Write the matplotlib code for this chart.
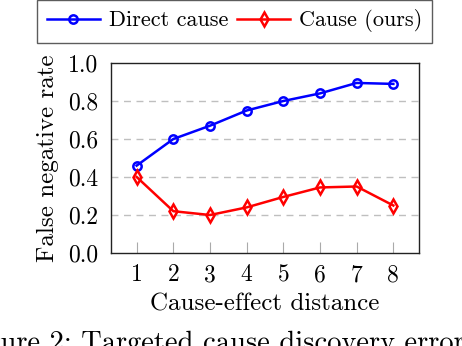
import matplotlib
matplotlib.use("Agg")
import matplotlib.pyplot as plt

plt.rcParams['font.family'] = 'serif'
plt.rcParams['font.serif'] = ['cmr10', 'DejaVu Serif']
plt.rcParams['mathtext.fontset'] = 'cm'
plt.rcParams['axes.unicode_minus'] = False
plt.rcParams['axes.formatter.use_mathtext'] = True

distance = [1, 2, 3, 4, 5, 6, 7, 8]
direct_cause = [0.46, 0.60, 0.67, 0.75, 0.80, 0.84, 0.895, 0.89]
cause_ours = [0.40, 0.22, 0.20, 0.24, 0.295, 0.345, 0.35, 0.25]
yticks = [0.0, 0.2, 0.4, 0.6, 0.8, 1.0]
ytick_labels = ['0.0', '0.2', '0.4', '0.6', '0.8', '1.0']

W, H = 462, 346
fig = plt.figure(figsize=(W / 100, H / 100), dpi=100)
ax = fig.add_axes([111 / W, (H - 253) / H, (419 - 111) / W, (253 - 63) / H])

for yv in yticks[1:-1]:
    ax.axhline(yv, color='#bfbfbf', lw=1.0, ls=(0, (5, 4)), zorder=0)

l1, = ax.plot(distance, direct_cause, color='#0000ff', lw=1.8, marker='o',
              ms=6, mfc='none', mew=1.8, label='Direct cause', zorder=3)
l2, = ax.plot(distance, cause_ours, color='#ff0000', lw=1.8, marker='d',
              ms=7, mfc='none', mew=1.8, label='Cause (ours)', zorder=3)

ax.set_xlim(0.3, 8.7)
ax.set_ylim(0, 1)
ax.set_xticks(distance)
ax.set_xticklabels([str(d) for d in distance])
ax.set_yticks(yticks)
ax.set_yticklabels(ytick_labels)
ax.tick_params(axis='x', direction='in', length=8, width=0.8, color='#aaaaaa',
               labelsize=17, pad=8)
ax.tick_params(axis='y', length=0, labelsize=17, pad=9)
for s in ax.spines.values():
    s.set_color('#222222')
    s.set_linewidth(1.0)

ax.set_xlabel('Cause-effect distance', fontsize=18, labelpad=5)
ax.set_ylabel('False negative rate', fontsize=18, labelpad=7)

leg = fig.legend(handles=[l1, l2], loc='center', ncol=2,
                 bbox_to_anchor=(234.5 / W, 1 - 21 / H), fontsize=16,
                 frameon=True, fancybox=False, edgecolor='#333333',
                 handlelength=2.4, columnspacing=0.4, handletextpad=0.4,
                 borderpad=0.45)
leg.get_frame().set_linewidth(1.0)

# caption, clipped at the left and bottom edges as in the reference
fig.canvas.draw()
renderer = fig.canvas.get_renderer()
probe = fig.text(0, 0, 'Fig', fontsize=20.5)
fig_w = probe.get_window_extent(renderer).width
probe.remove()
fig.text(-fig_w / W, (H - 351) / H,
         'Figure 2: Targeted cause discovery error rates',
         fontsize=20.5, ha='left', va='baseline')

fig.savefig('out.png', dpi=100)
